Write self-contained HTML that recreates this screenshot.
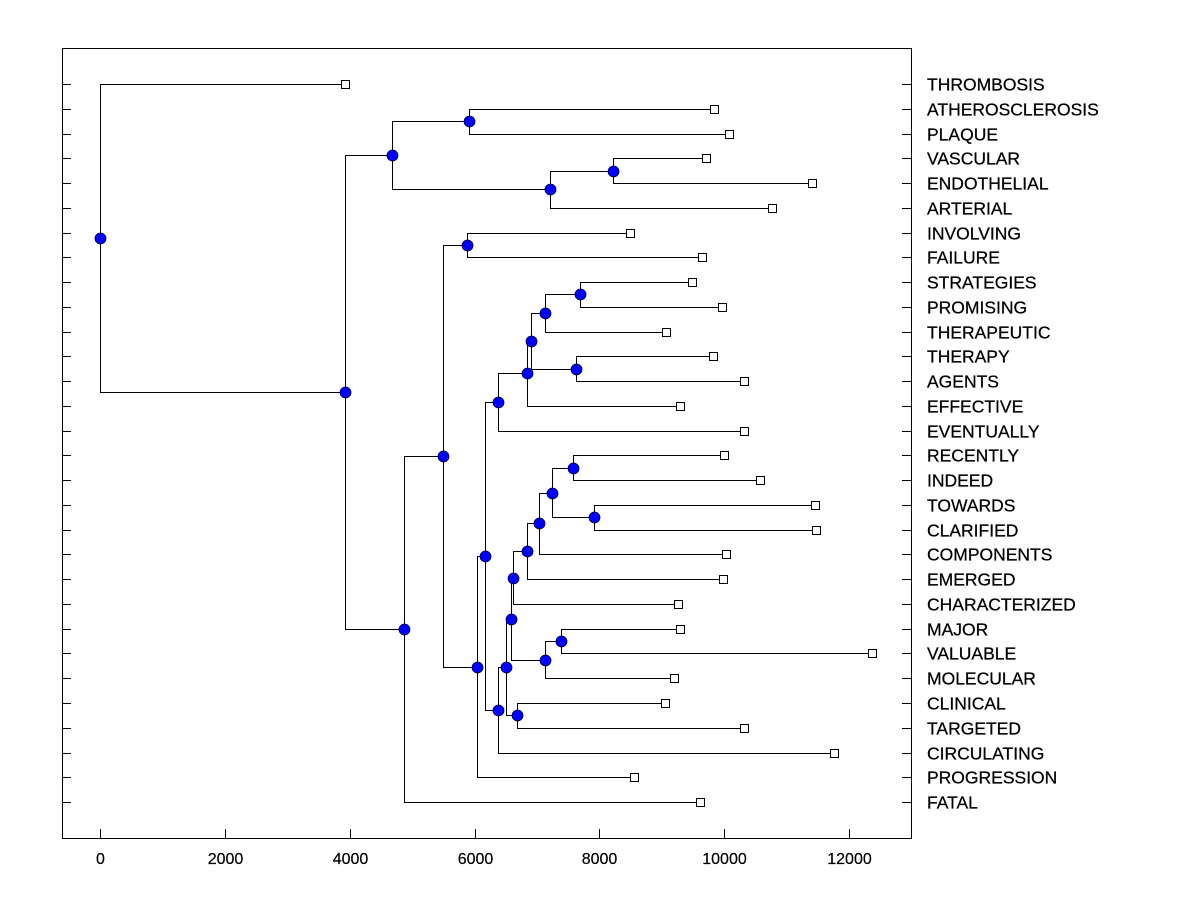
<!DOCTYPE html>
<html><head><meta charset="utf-8"><style>body{margin:0;background:#fff}svg{display:block}</style></head>
<body>
<svg id="chart" width="1200" height="900" xmlns="http://www.w3.org/2000/svg" font-family="Liberation Sans, Arial, sans-serif">
<rect x="62.5" y="48.5" width="849" height="790" fill="none" stroke="#000" stroke-width="1"/>
<g id="g"></g>
</svg>
<script>
const leafLabels=["THROMBOSIS","ATHEROSCLEROSIS","PLAQUE","VASCULAR","ENDOTHELIAL","ARTERIAL","INVOLVING","FAILURE","STRATEGIES","PROMISING","THERAPEUTIC","THERAPY","AGENTS","EFFECTIVE","EVENTUALLY","RECENTLY","INDEED","TOWARDS","CLARIFIED","COMPONENTS","EMERGED","CHARACTERIZED","MAJOR","VALUABLE","MOLECULAR","CLINICAL","TARGETED","CIRCULATING","PROGRESSION","FATAL"];
const leafValues=[3925,9837,10077,9709,11407,10766,8491,9645,9484,9965,9068,9821,10317,9292,10317,9997,10574,11455,11471,10029,9981,9260,9292,12368,9196,9052,10317,11759,8555,9612];
const mergeLeft=[1,3,31,30,6,8,35,11,36,38,39,15,17,41,43,44,45,22,47,46,25,49,51,40,53,34,55,33,0];
const mergeRight=[2,4,5,32,7,9,10,12,37,13,14,16,18,42,19,20,21,23,24,48,26,50,27,52,28,54,29,56,57];
const mergeHeight=[5912,8219,7209,4678,5880,7690,7129,7626,6905,6841,6376,7578,7914,7241,7033,6841,6617,7385,7129,6585,6681,6504,6376,6168,6040,5495,4870,3925,0];
const xTicks=[0,2000,4000,6000,8000,10000,12000];

const NS="http://www.w3.org/2000/svg",g=document.getElementById('g');
const X=v=>100+v*0.06242, Y=i=>84+i*24.76;
function mk(t,a){const e=document.createElementNS(NS,t);for(const k in a)e.setAttribute(k,a[k]);g.appendChild(e);return e;}
const n=leafLabels.length, pos={}, hx={};
for(let i=0;i<n;i++){pos[i]=Y(i);hx[i]=leafValues[i];}
mergeHeight.forEach((h,k)=>{pos[n+k]=(pos[mergeLeft[k]]+pos[mergeRight[k]])/2;hx[n+k]=h;});
for(let i=0;i<n;i++){
  const y=Math.round(Y(i))+0.5;
  let t=mk('line',{x1:62,x2:71,y1:y,y2:y,stroke:'#000'});
  
  
  t=mk('line',{x1:902,x2:911,y1:y,y2:y,stroke:'#000'});
  
  
  const lb=mk('text',{x:927,y:y+6,'font-size':17.5,stroke:'#000','stroke-width':0.25});
  lb.textContent=leafLabels[i];
  
  
}
xTicks.forEach(v=>{
  const x=Math.round(X(v))+0.5;
  const t=mk('line',{x1:x,x2:x,y1:829,y2:838,stroke:'#000'});
  
  
  const lb=mk('text',{x:x,y:864,'font-size':16,'text-anchor':'middle',stroke:'#000','stroke-width':0.2});
  lb.textContent=v;
  
  
});
mergeHeight.forEach((h,k)=>{
  const px=Math.round(X(h))+0.5;
  [mergeLeft[k],mergeRight[k]].forEach(c=>{
    const cy=Math.round(pos[c])+0.5, cx=X(hx[c]);
    const p=mk('path',{d:`M${px},${Math.round(pos[n+k])+0.5}V${cy}H${cx}`,fill:'none',stroke:'#000'});
    
    
  });
});
for(let i=0;i<n;i++){
  const s=mk('rect',{x:Math.round(X(leafValues[i]))-3.5,y:Math.round(Y(i))-3.5,width:8,height:8,fill:'#fff',stroke:'#000'});
  
  
}
mergeHeight.forEach((h,k)=>{
  const c=mk('circle',{cx:X(h)+0.5,cy:Math.round(pos[n+k])+0.5,r:5.5,fill:'#0000ff',stroke:'#000033','stroke-width':0.8});
  
  
});
</script>
</body></html>
